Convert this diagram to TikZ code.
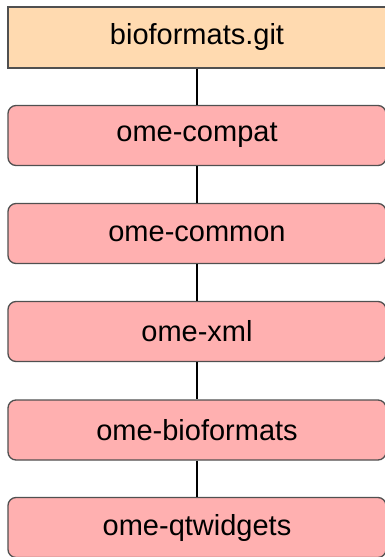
\documentclass[tikz,border=0pt]{standalone}
\usepackage{fontspec}
\setmainfont{Liberation Sans}
\definecolor{peach}{RGB}{255,218,176}
\definecolor{pinkbox}{RGB}{255,176,176}
\definecolor{edge}{RGB}{80,80,80}
\tikzset{
  repo/.style={draw=edge, line width=1.3pt, fill=peach, minimum width=378pt, minimum height=61pt, inner sep=0pt, font=\fontsize{29}{33}\selectfont},
  comp/.style={draw=edge, line width=1.3pt, fill=pinkbox, rounded corners=8pt, minimum width=378pt, minimum height=60pt, inner sep=0pt, font=\fontsize{29}{33}\selectfont},
  link/.style={draw=black, line width=2pt}
}
\begin{document}
\begin{tikzpicture}[x=1pt,y=-1pt]
\useasboundingbox (0,0) rectangle (385,557);
\node[repo] (git) at (197,37.5) {bioformats.git};
\node[comp] (compat) at (197,135.5) {ome-compat};
\node[comp] (common) at (197,233.5) {ome-common};
\node[comp] (xml) at (197,331.5) {ome-xml};
\node[comp] (bf) at (197,430) {ome-bioformats};
\node[comp] (qt) at (197,527.5) {ome-qtwidgets};
\draw[link] (git) -- (compat);
\draw[link] (compat) -- (common);
\draw[link] (common) -- (xml);
\draw[link] (xml) -- (bf);
\draw[link] (bf) -- (qt);
\end{tikzpicture}
\end{document}
